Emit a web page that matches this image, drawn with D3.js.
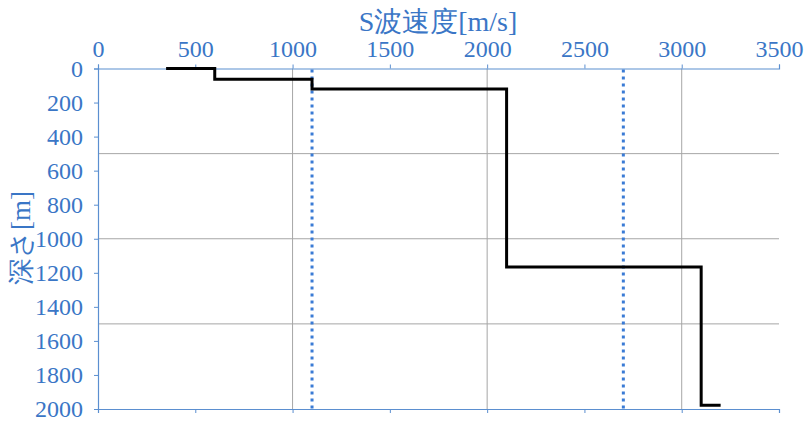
<!DOCTYPE html>
<html><head><meta charset="utf-8">
<script src="https://cdn.jsdelivr.net/npm/d3@7"></script>
<style>body{margin:0;background:#fff} svg text{font-family:"Liberation Serif", serif;}</style>
</head><body>
<svg id="c" width="810" height="426" font-family="Liberation Serif"></svg>
<script>
// velocity profile (step line): velocity [m/s], depth [m]
const profileVelocity = [350, 600, 600, 1100, 1100, 2100, 2100, 3100, 3100, 3200];
const profileDepth    = [0,   0,   63,  63,   120,  120,  1166, 1166, 1978, 1978];
// reference vertical dotted lines
const refVelocities = [1100, 2700];
const xTicks = [0, 500, 1000, 1500, 2000, 2500, 3000, 3500];
const yTicks = [0, 200, 400, 600, 800, 1000, 1200, 1400, 1600, 1800, 2000];
const xGrid = [1000, 2000, 3000];
const yGrid = [500, 1000, 1500];
const xTitle = "S波速度[m/s]";
const yTitle = "深さ[m]";

(function () {
const svg = d3.select("#c");
const blue = "#3a76c6", axisBlue = "#5b8fd0";
const font = "Liberation Serif";
const x = d3.scaleLinear().domain([0, 3500]).range([98, 779]);
const y = d3.scaleLinear().domain([0, 2000]).range([68.5, 409]);
const fmt = d3.format("d");

// grid
svg.append("g").selectAll("line").data(xGrid).join("line")
  .attr("x1", d => x(d)).attr("x2", d => x(d)).attr("y1", y(0)).attr("y2", y(2000))
  .attr("stroke", "#a6a6a6").attr("stroke-width", 1);
svg.append("g").selectAll("line").data(yGrid).join("line")
  .attr("x1", x(0)).attr("x2", x(3500)).attr("y1", d => y(d)).attr("y2", d => y(d))
  .attr("stroke", "#a6a6a6").attr("stroke-width", 1);

// axes
const gTop = svg.append("g").attr("transform", `translate(0,${y(0)})`)
  .call(d3.axisTop(x).tickValues(xTicks).tickFormat(fmt).tickSize(4).tickSizeOuter(4).tickPadding(7.5));
const gLeft = svg.append("g").attr("transform", `translate(${x(0)},0)`)
  .call(d3.axisLeft(y).tickValues(yTicks).tickFormat(fmt).tickSize(4).tickSizeOuter(4).tickPadding(11));
const gBottom = svg.append("g").attr("transform", `translate(0,${y(2000)})`)
  .call(d3.axisBottom(x).tickValues(xTicks).tickSize(4).tickSizeOuter(4).tickFormat(""));
[gTop, gLeft, gBottom].forEach(g => {
  g.attr("font-family", font).attr("font-size", 24);
  g.select(".domain").attr("stroke", axisBlue).attr("stroke-width", 1.2);
  g.selectAll(".tick line").attr("stroke", axisBlue);
  g.selectAll("text").attr("fill", blue).attr("font-family", font).attr("font-size", 24);
});
gBottom.selectAll("text").remove();

// dotted reference lines
svg.append("g").selectAll("line").data(refVelocities).join("line")
  .attr("x1", d => x(d)).attr("x2", d => x(d)).attr("y1", y(0) + 1).attr("y2", y(2000))
  .attr("stroke", "#3a7bd5").attr("stroke-width", 3).attr("stroke-dasharray", "3,4");

// step line
const pts = profileVelocity.map((v, i) => [v, profileDepth[i]]);
svg.append("path").datum(pts)
  .attr("d", d3.line().x(d => x(d[0])).y(d => y(d[1])))
  .attr("fill", "none").attr("stroke", "#000").attr("stroke-width", 3)
  .attr("stroke-linejoin", "miter");

// titles
svg.append("text").attr("x", 438).attr("y", 31).attr("text-anchor", "middle")
  .attr("fill", blue).attr("font-family", font).attr("font-size", 28).text(xTitle);
svg.append("text").attr("transform", `translate(21,238) rotate(-90)`).attr("text-anchor", "middle")
  .attr("dominant-baseline", "central")
  .attr("fill", blue).attr("font-family", font).attr("font-size", 27).text(yTitle);
})();
</script>
</body></html>
